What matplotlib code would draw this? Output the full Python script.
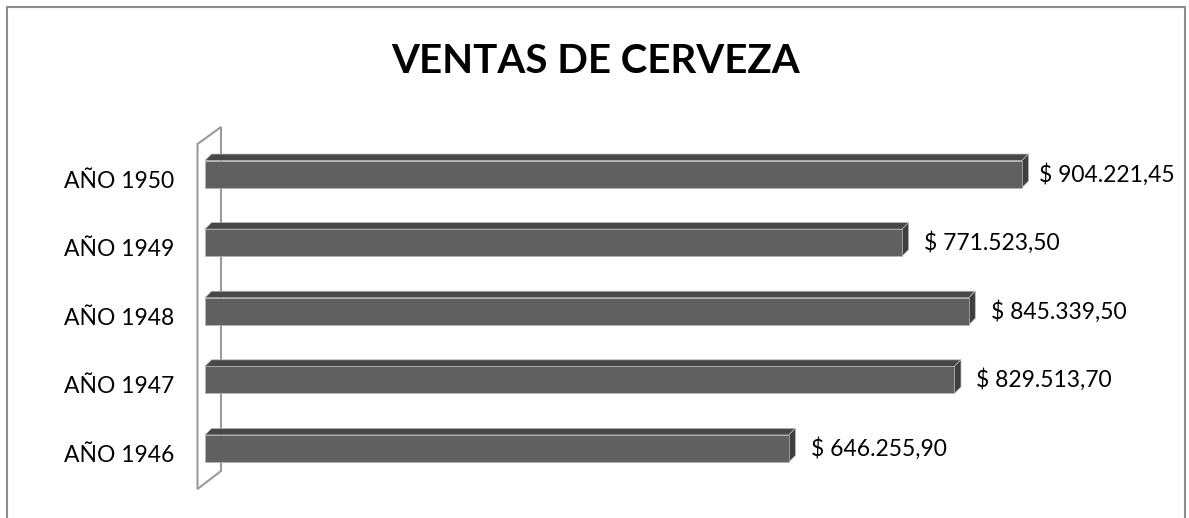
import matplotlib
matplotlib.use('Agg')
import matplotlib.pyplot as plt
from matplotlib.patches import Polygon
from matplotlib.lines import Line2D
import matplotlib.transforms as mtransforms

# data
years = ['AÑO 1946', 'AÑO 1947', 'AÑO 1948', 'AÑO 1949', 'AÑO 1950']
ventas = [646255.90, 829513.70, 845339.50, 771523.50, 904221.45]
title = 'VENTAS DE CERVEZA'

plt.rcParams['font.family'] = ['Lato', 'DejaVu Sans']

W, H, DPI = 1189, 518, 100
XMAX = 1000000
BAR_H = 0.394
DEPTH_PX = 6.5

FRONT = '#606060'
TOP = '#474747'
SIDE = '#3e3e3e'
EDGE = '#b4b4b4'


def fmt_money(v):
    s = '{:,.2f}'.format(v)
    s = s.replace(',', '#').replace('.', ',').replace('#', '.')
    return '$ ' + s


fig = plt.figure(figsize=(W / DPI, H / DPI), dpi=DPI)

ax_l, ax_r = 205, 1108.5
ax_t, ax_b = 139.75, 482.75
ax = fig.add_axes([ax_l / W, (H - ax_b) / H, (ax_r - ax_l) / W, (ax_b - ax_t) / H])
ax.set_xlim(0, XMAX)
ax.set_ylim(-0.5, len(years) - 0.5)
ax.axis('off')

# depth offset converted to data units
dx = DEPTH_PX / (ax_r - ax_l) * XMAX
dy = DEPTH_PX / (ax_b - ax_t) * len(years)

# left wall (outline only)
wx0, wx1 = (197.5 - ax_l) / (ax_r - ax_l), (221 - ax_l) / (ax_r - ax_l)
wyt0, wyt1 = (ax_b - 144) / (ax_b - ax_t), (ax_b - 127) / (ax_b - ax_t)
wyb0, wyb1 = (ax_b - 489) / (ax_b - ax_t), (ax_b - 471) / (ax_b - ax_t)
wall = Polygon([(wx0, wyt0), (wx1, wyt1), (wx1, wyb1), (wx0, wyb0)], closed=True,
               fill=False, edgecolor='#9a9a9a', lw=1.5, transform=ax.transAxes,
               clip_on=False, zorder=1)
ax.add_patch(wall)

for i, v in enumerate(ventas):
    yt = i + BAR_H / 2
    yb = i - BAR_H / 2
    top = Polygon([(0, yt), (v, yt), (v + dx, yt + dy), (dx, yt + dy)], closed=True,
                  facecolor=TOP, edgecolor=EDGE, lw=0.5, zorder=3, clip_on=False)
    side = Polygon([(v, yb), (v, yt), (v + dx, yt + dy), (v + dx, yb + dy)], closed=True,
                   facecolor=SIDE, edgecolor=EDGE, lw=0.5, zorder=3, clip_on=False)
    ax.add_patch(top)
    ax.add_patch(side)
ax.barh(range(len(years)), ventas, height=BAR_H, color=FRONT, edgecolor=EDGE,
        lw=0.5, zorder=4)

# category labels
lab_off = mtransforms.ScaledTranslation(0, -7 / DPI, fig.dpi_scale_trans)
for i, name in enumerate(years):
    ax.text(-31 / (ax_r - ax_l) * XMAX, i, name, ha='right', va='center',
            fontsize=16.5, color='#000000',
            transform=ax.transData + lab_off)

# value labels
val_texts = []
for i, v in enumerate(ventas):
    t = ax.annotate(fmt_money(v), (v, i), xytext=(22, 0), textcoords='offset pixels',
                    ha='left', va='center', fontsize=16.5, color='#000000',
                    annotation_clip=False)
    val_texts.append(t)

fig.text(595.5 / W, (H - 73) / H, title, ha='center', va='baseline',
         fontsize=29, fontweight='bold', color='#000000')

# chart border (bottom edge lies below the visible picture)
bx0, bx1, by = 7 / W, 1185 / W, (H - 7) / H
fig.add_artist(Line2D([bx0, bx0, bx1, bx1], [-0.05, by, by, -0.05],
                      transform=fig.transFigure, color='#8c8c8c', lw=1.5))

# keep labels inside the chart border like the original
fig.canvas.draw()
renderer = fig.canvas.get_renderer()
limit = 1175
for t in val_texts:
    bb = t.get_window_extent(renderer)
    if bb.x1 > limit:
        x, y = t.xyann
        t.xyann = (x - (bb.x1 - limit), y)

fig.savefig('out.png', dpi=DPI, facecolor='white')
